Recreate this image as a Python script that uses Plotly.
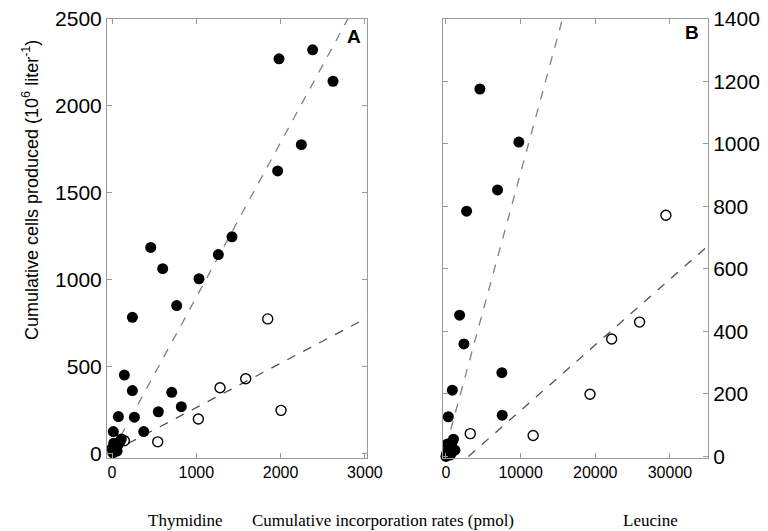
import plotly.graph_objects as go

# ---- Panel A : Thymidine ----
thy_filled_x = [15, 75, 146, 241, 265, 376, 549, 708, 822, 241, 767, 1032, 601, 1261, 459, 1423, 1965, 2246, 1981, 2380, 2622,
                10, 25, 45, 70, 95, 20, 60, 0, 110]
thy_filled_y = [127, 213, 452, 363, 210, 127, 241, 353, 270, 784, 852, 1006, 1064, 1145, 1186, 1247, 1626, 1777, 2271, 2323, 2142,
                5, 20, 35, 50, 70, 60, 15, 30, 85]
thy_open_x = [146, 542, 1024, 1281, 1586, 2005, 1847]
thy_open_y = [74, 68, 199, 379, 431, 249, 775]
thy_fit_filled = (0.89, 10)    # slope, intercept
thy_fit_open = (0.255, 10)

# ---- Panel B : Leucine ----
leu_filled_x = [312, 848, 1827, 2406, 7487, 7531, 2763, 6907, 9759, 4545,
                100, 300, 500, 800, 1000, 200, 600, 1200, 0]
leu_filled_y = [127, 212, 452, 360, 268, 132, 785, 853, 1006, 1176,
                10, 20, 30, 45, 55, 40, 5, 20, 0]
leu_open_x = [3253, 11676, 19295, 22193, 25936, 29456]
leu_open_y = [73, 67, 199, 376, 430, 772]
leu_fit_filled = (0.0878, 30)
leu_fit_open = (0.021, -63)

thy_xrange = [-60, 3025]
thy_yrange = [-25, 2500]
leu_xrange = [-400, 35100]
leu_yrange = [-5, 1400]

thy_xticks = [0, 1000, 2000, 3000]
thy_yticks = [0, 500, 1000, 1500, 2000, 2500]
leu_xticks = [0, 10000, 20000, 30000]
leu_yticks = [0, 200, 400, 600, 800, 1000, 1200, 1400]


def fit_line(fit, xr):
    m, b = fit
    x0 = max(0.0, -b / m) if b < 0 else 0.0
    x1 = xr[1]
    return [x0, x1], [m * x0 + b, m * x1 + b]


fig = go.Figure()

# fitted lines
for fit, xr, xa, ya, col in [
    (thy_fit_filled, thy_xrange, "x", "y", "#808080"),
    (thy_fit_open, thy_xrange, "x", "y", "#505050"),
    (leu_fit_filled, leu_xrange, "x2", "y2", "#808080"),
    (leu_fit_open, leu_xrange, "x2", "y2", "#505050"),
]:
    lx, ly = fit_line(fit, xr)
    fig.add_trace(go.Scatter(x=lx, y=ly, mode="lines", xaxis=xa, yaxis=ya,
                             line=dict(color=col, width=1.3, dash="dash"),
                             showlegend=False, hoverinfo="skip"))

filled_marker = dict(symbol="circle", size=11, color="black", line=dict(width=0))
open_marker = dict(symbol="circle-open", size=10, color="black", line=dict(width=1.4))

fig.add_trace(go.Scatter(x=thy_open_x, y=thy_open_y, mode="markers", marker=open_marker,
                         xaxis="x", yaxis="y", showlegend=False, cliponaxis=False))
fig.add_trace(go.Scatter(x=thy_filled_x, y=thy_filled_y, mode="markers", marker=filled_marker,
                         xaxis="x", yaxis="y", showlegend=False, cliponaxis=False))
fig.add_trace(go.Scatter(x=leu_open_x, y=leu_open_y, mode="markers", marker=open_marker,
                         xaxis="x2", yaxis="y2", showlegend=False, cliponaxis=False))
fig.add_trace(go.Scatter(x=leu_filled_x, y=leu_filled_y, mode="markers", marker=filled_marker,
                         xaxis="x2", yaxis="y2", showlegend=False, cliponaxis=False))

axis_common = dict(showgrid=False, zeroline=False, showline=True, linecolor="#9a9a9a", linewidth=1,
                   mirror="ticks", ticks="inside", ticklen=5, tickcolor="#9a9a9a", tickwidth=1,
                   automargin=False)

W, H = 768, 531
ml, mr, mt, mb = 107, 60, 19, 73
pw = W - ml - mr
ph = H - mt - mb
left_end = (367 - ml) / pw
right_start = (443 - ml) / pw
serif = "Liberation Serif, Times New Roman, serif"
sans = "Liberation Sans, Arial, sans-serif"

fig.update_layout(
    width=W, height=H,
    margin=dict(l=ml, r=mr, t=mt, b=mb, autoexpand=False),
    paper_bgcolor="white", plot_bgcolor="white",
    font=dict(family=sans, color="black"),
    xaxis=dict(domain=[0, left_end], range=thy_xrange, tickvals=thy_xticks,
               ticktext=[str(v) for v in thy_xticks],
               tickfont=dict(size=16), anchor="y", **axis_common),
    yaxis=dict(domain=[0, 1], range=thy_yrange, tickvals=thy_yticks,
               ticktext=[str(v) for v in thy_yticks],
               tickfont=dict(size=21), anchor="x", **axis_common),
    xaxis2=dict(domain=[right_start, 1], range=leu_xrange, tickvals=leu_xticks,
                ticktext=[str(v) for v in leu_xticks],
                tickfont=dict(size=16), anchor="y2", **axis_common),
    yaxis2=dict(domain=[0, 1], range=leu_yrange, tickvals=leu_yticks, side="right",
                ticktext=[str(v) for v in leu_yticks], tickprefix=" ",
                tickfont=dict(size=21), anchor="x2", **axis_common),
    annotations=[
        dict(text="<b>A</b>", xref="x domain", yref="y domain", x=0.985, y=0.96,
             xanchor="right", yanchor="middle", showarrow=False, font=dict(size=19)),
        dict(text="<b>B</b>", xref="x2 domain", yref="y2 domain", x=0.975, y=0.97,
             xanchor="right", yanchor="middle", showarrow=False, font=dict(size=19)),
        dict(text="Cumulative cells produced (10<sup>6</sup> liter<sup>-1</sup>)",
             xref="paper", yref="paper", x=-(ml - 30) / pw, y=(H - mb - 190) / ph,
             xanchor="center", yanchor="middle", textangle=-90, showarrow=False,
             font=dict(size=18, family=sans)),
        dict(text="Thymidine", xref="paper", yref="paper", x=(185 - ml) / pw, y=-(520 - 458) / ph,
             xanchor="center", yanchor="middle", showarrow=False,
             font=dict(size=17, family=serif)),
        dict(text="Cumulative incorporation rates (pmol)", xref="paper", yref="paper",
             x=(383 - ml) / pw, y=-(520 - 458) / ph,
             xanchor="center", yanchor="middle", showarrow=False,
             font=dict(size=17, family=serif)),
        dict(text="Leucine", xref="paper", yref="paper", x=(650 - ml) / pw, y=-(520 - 458) / ph,
             xanchor="center", yanchor="middle", showarrow=False,
             font=dict(size=17, family=serif)),
    ],
)

fig.write_html("out.html")
